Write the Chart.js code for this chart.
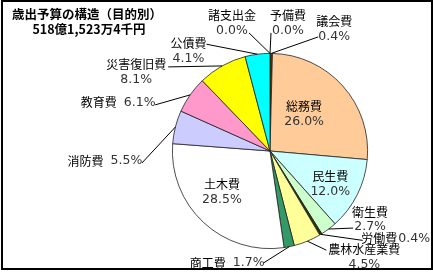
<!DOCTYPE html>
<html>
<head>
<meta charset="utf-8">
<script src="https://cdn.jsdelivr.net/npm/chart.js@4/dist/chart.umd.min.js"></script>
<style>
  html, body { margin: 0; padding: 0; background: #fff; }
  canvas { display: block; }
</style>
</head>
<body>
<canvas id="myChart" width="433" height="272"></canvas>
<script>
"use strict"
// DATA
const titleLines = ['歳出予算の構造（目的別）', '518億1,523万4千円'];
const categories = ['議会費', '総務費', '民生費', '衛生費', '労働費', '農林水産業費', '商工費',
    '土木費', '消防費', '教育費', '災害復旧費', '公債費', '諸支出金', '予備費'];
const shares = [0.4, 26.0, 12.0, 2.7, 0.4, 4.5, 1.7, 28.5, 5.5, 6.1, 8.1, 4.1, 0.0, 0.0];
const sliceColors = ['#663300', '#FFCC99', '#CCFFFF', '#CCFFCC', '#333300', '#FFFF99', '#339966',
    '#FFFFFF', '#CCCCFF', '#FF99CC', '#FFFF00', '#00FFFF', '#999999', '#999999'];

// label layout: offsets from the outer middle of each slice
// t = text centre, l = leader start (null = inside label), gap = single line with gap
const labelLayout = [
    { t: [63, -24.5], l: [47, -16.5] },
    { t: [-38.7, 28.4], l: null },
    { t: [-27, -11], l: null },
    { t: [41.5, -9.5], l: [24.5, -1] },
    { t: [75, 4], l: [42, 6], gap: 1 },
    { t: [57, 16], l: [19, 9] },
    { t: [-62, 16.5], l: [-26, 16.5], gap: 7 },
    { t: [18.5, -30], l: null },
    { t: [-70.5, 34], l: [-33.5, 36], gap: 7 },
    { t: [-72, 8], l: [-35, 10], gap: 7 },
    { t: [-86, 6.5], l: [-54, 1] },
    { t: [-69, -3], l: [-51, -10] },
    { t: [-38, -30], l: [-21, -20.5] },
    { t: [18, -30], l: [1, -20.5] }
];

const jpFont = '12px "Noto Sans CJK JP"';
const pctFont = '12.5px "DejaVu Sans"';

const labelPlugin = {
    id: 'pieLabels',
    afterDraw(chart) {
        const ctx = chart.ctx;
        const arcs = chart.getDatasetMeta(0).data;
        const total = shares.reduce((a, b) => a + b, 0);
        ctx.save();

        // leader lines first
        ctx.strokeStyle = '#000';
        ctx.lineWidth = 1;
        arcs.forEach((arc, i) => {
            const lay = labelLayout[i];
            if (!lay.l) return;
            const mid = (arc.startAngle + arc.endAngle) / 2;
            const ax = arc.x + arc.outerRadius * Math.cos(mid);
            const ay = arc.y + arc.outerRadius * Math.sin(mid);
            ctx.beginPath();
            ctx.moveTo(ax + lay.l[0], ay + lay.l[1]);
            ctx.lineTo(ax, ay);
            ctx.stroke();
        });

        // texts
        ctx.textBaseline = 'middle';
        arcs.forEach((arc, i) => {
            const lay = labelLayout[i];
            const mid = (arc.startAngle + arc.endAngle) / 2;
            const ax = arc.x + arc.outerRadius * Math.cos(mid);
            const ay = arc.y + arc.outerRadius * Math.sin(mid);
            const x = ax + lay.t[0];
            const y = ay + lay.t[1];
            const pct = (shares[i] / total * 100).toFixed(1) + '%';
            if (lay.gap !== undefined) {
                ctx.font = jpFont;
                const w1 = ctx.measureText(categories[i]).width + lay.gap;
                ctx.font = pctFont;
                const w2 = ctx.measureText(pct).width;
                let sx = x - (w1 + w2) / 2;
                ctx.textAlign = 'left';
                ctx.font = jpFont;
                ctx.fillStyle = '#000';
                ctx.fillText(categories[i], sx, y);
                ctx.font = pctFont;
                ctx.fillStyle = '#333';
                ctx.fillText(pct, sx + w1, y);
            } else {
                ctx.textAlign = 'center';
                ctx.font = jpFont;
                ctx.fillStyle = '#000';
                ctx.fillText(categories[i], x, y - 7.5);
                ctx.font = pctFont;
                ctx.fillStyle = '#333';
                ctx.fillText(pct, x, y + 7.5);
            }
        });

        // title
        ctx.fillStyle = '#000';
        ctx.textAlign = 'center';
        ctx.font = 'bold 12.5px "Noto Sans CJK JP"';
        ctx.fillText(titleLines[0], 87, 14);
        ctx.fillText(titleLines[1], 89, 29);

        // frame
        ctx.strokeStyle = '#000';
        ctx.lineWidth = 2;
        ctx.strokeRect(2, 1, 430, 268);
        ctx.restore();
    }
};

let data = {
    labels: categories,
    datasets: [{
        data: shares,
        backgroundColor: sliceColors,
        borderColor: '#222',
        borderWidth: 0.8
    }]
};

let config = {
    type: 'pie',
    data: data,
    options: {
        responsive: false,
        animation: false,
        layout: {
            padding: { left: 172, right: 65, top: 53, bottom: 23 }
        },
        plugins: {
            legend: { display: false },
            tooltip: { enabled: false },
            title: { display: false }
        }
    },
    plugins: [labelPlugin]
};

let myChart = new Chart(document.getElementById('myChart'), config);
</script>
</body>
</html>
